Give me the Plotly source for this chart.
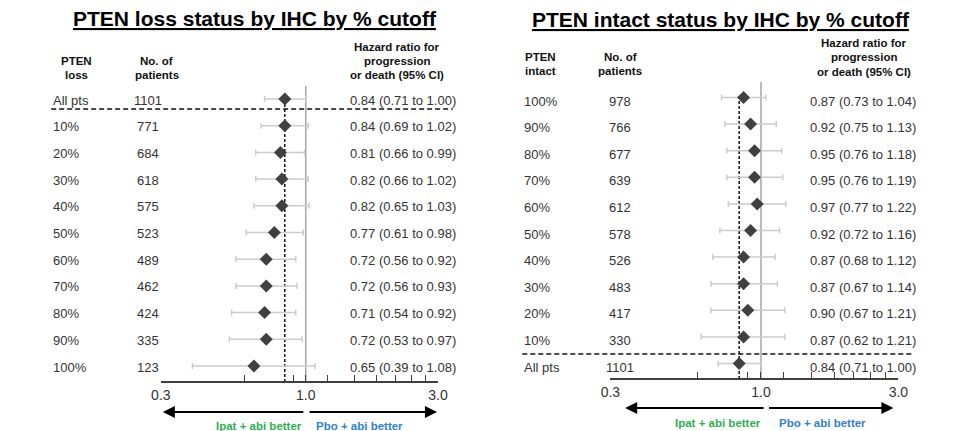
import numpy as np
import plotly.graph_objects as go

W, H = 974, 431

# ---------------- data ----------------
loss_labels = ["All pts", "10%", "20%", "30%", "40%", "50%", "60%", "70%", "80%", "90%", "100%"]
loss_n = [1101, 771, 684, 618, 575, 523, 489, 462, 424, 335, 123]
loss_hr = [0.84, 0.84, 0.81, 0.82, 0.82, 0.77, 0.72, 0.72, 0.71, 0.72, 0.65]
loss_lo = [0.71, 0.69, 0.66, 0.66, 0.65, 0.61, 0.56, 0.56, 0.54, 0.53, 0.39]
loss_hi = [1.00, 1.02, 0.99, 1.02, 1.03, 0.98, 0.92, 0.93, 0.92, 0.97, 1.08]

intact_labels = ["100%", "90%", "80%", "70%", "60%", "50%", "40%", "30%", "20%", "10%", "All pts"]
intact_n = [978, 766, 677, 639, 612, 578, 526, 483, 417, 330, 1101]
intact_hr = [0.87, 0.92, 0.95, 0.95, 0.97, 0.92, 0.87, 0.87, 0.90, 0.87, 0.84]
intact_lo = [0.73, 0.75, 0.76, 0.76, 0.77, 0.72, 0.68, 0.67, 0.67, 0.62, 0.71]
intact_hi = [1.04, 1.13, 1.18, 1.19, 1.22, 1.16, 1.12, 1.14, 1.21, 1.21, 1.00]

overall_hr = 0.84
tick_vals = [0.3, 0.6, 0.9, 1.0, 1.2, 1.5, 1.8, 2.1, 2.4, 2.7, 3.0]
tick_text = ["0.3", "", "", "1.0", "", "", "", "", "", "", "3.0"]

titles = ["PTEN loss status by IHC by % cutoff", "PTEN intact status by IHC by % cutoff"]
col1_headers = [["PTEN", "loss"], ["PTEN", "intact"]]
col2_header = ["No. of", "patients"]
hr_header = ["Hazard ratio for", "progression", "or death (95% CI)"]
favour_left = "Ipat + abi better"
favour_right = "Pbo + abi better"

FONT = "Liberation Sans, Arial, sans-serif"
TXT = "#333333"
GREEN = "#2eb04f"
BLUE = "#2f80d1"

def px(x):
    """page pixel x -> paper fraction"""
    return x / W

def ypaper(y):
    """page pixel y -> paper fraction"""
    return 1 - y / H

panels = [
    dict(labels=loss_labels, n=loss_n, hr=loss_hr, lo=loss_lo, hi=loss_hi,
         xa="x", ax0=154, ax1=437, axis_y=382, row0=100, row1=367, doff=-1,
         label_x=42, n_x=141, hr_x=345, h1_x=68, h2_x=150, h3_x=395,
         hdr_y=[61, 75], hr_hdr_y=[47, 61, 75], title_x=250, title_y=18,
         one_top=86, sep_y=109, sep_x=(42, 452), dash_top=99,
         arr_y=412, arr_l=(298, 156), arr_r=(307, 436), fav_y=426, fav_l=254, fav_r=357),
    dict(labels=intact_labels, n=intact_n, hr=intact_hr, lo=intact_lo, hi=intact_hi,
         xa="x2", ax0=613, ax1=907, axis_y=379, row0=101, row1=367, doff=-3.5,
         label_x=523, n_x=623, hr_x=815, h1_x=542, h2_x=623, h3_x=872,
         hdr_y=[57, 71], hr_hdr_y=[43, 57, 72], title_x=726, title_y=19,
         one_top=82, sep_y=354, sep_x=(523, 922), dash_top=96,
         arr_y=408, arr_l=(768, 628), arr_r=(776, 902), fav_y=423, fav_l=723, fav_r=830),
]

fig = go.Figure()
annotations = []
shapes = []

def text(x, y, s, anchor="center", size=13, color=TXT, bold=False):
    annotations.append(dict(
        x=px(x), y=y, xref="paper", yref="y", text=(f"<b>{s}</b>" if bold else s),
        showarrow=False, xanchor=anchor, yanchor="middle",
        font=dict(family=FONT, size=size, color=color)))

layout_axes = {}
for k, p in enumerate(panels):
    nrows = len(p["labels"])
    step = (p["row1"] - p["row0"]) / (nrows - 1)
    rows = [p["row0"] + i * step for i in range(nrows)]
    drows = [r + p["doff"] for r in rows]

    # reference line at 1.0
    fig.add_trace(go.Scatter(x=[1.0, 1.0], y=[p["one_top"], p["axis_y"]], mode="lines",
                             line=dict(color="#a6a6a6", width=1.5), xaxis=p["xa"], yaxis="y",
                             hoverinfo="skip", showlegend=False))
    # overall HR dashed line
    fig.add_trace(go.Scatter(x=[overall_hr, overall_hr], y=[p["dash_top"], p["axis_y"]], mode="lines",
                             line=dict(color="#111111", width=1.5, dash="3px,2px"), xaxis=p["xa"], yaxis="y",
                             hoverinfo="skip", showlegend=False))
    # diamonds with CI
    fig.add_trace(go.Scatter(
        x=p["hr"], y=drows, mode="markers", xaxis=p["xa"], yaxis="y",
        marker=dict(symbol="diamond", size=10, color="#404040"),
        error_x=dict(type="data", symmetric=False,
                     array=[h - v for h, v in zip(p["hi"], p["hr"])],
                     arrayminus=[v - l for v, l in zip(p["hr"], p["lo"])],
                     color="#cccccc", thickness=1.5, width=3),
        showlegend=False, cliponaxis=False))

    # row texts
    for r, lab, n, hr, lo, hi in zip(rows, p["labels"], p["n"], p["hr"], p["lo"], p["hi"]):
        text(p["label_x"], r, lab, anchor="left")
        text(p["n_x"], r, str(n))
        text(p["hr_x"], r, f"{hr:.2f} ({lo:.2f} to {hi:.2f})", anchor="left")

    # headers
    for line, y in zip(col1_headers[k], p["hdr_y"]):
        text(p["h1_x"], y, line, size=11.5, color="#111111", bold=True)
    for line, y in zip(col2_header, p["hdr_y"]):
        text(p["h2_x"], y, line, size=11.5, color="#111111", bold=True)
    for line, y in zip(hr_header, p["hr_hdr_y"]):
        text(p["h3_x"], y, line, size=11.5, color="#111111", bold=True)

    # title
    annotations.append(dict(x=px(p["title_x"]), y=p["title_y"], xref="paper", yref="y",
                            text=f"<b><u>{titles[k]}</u></b>", showarrow=False,
                            xanchor="center", yanchor="middle",
                            font=dict(family=FONT, size=21, color="#000000")))

    # separator dashed line
    shapes.append(dict(type="line", xref="paper", yref="y", x0=px(p["sep_x"][0]), x1=px(p["sep_x"][1]),
                       y0=p["sep_y"], y1=p["sep_y"], line=dict(color="#111111", width=1.5, dash="5px,3px")))

    # arrows (tail offset given in pixels relative to the tip)
    for (tail, tip) in (p["arr_l"], p["arr_r"]):
        annotations.append(dict(x=px(tip), y=p["arr_y"], ax=tail - tip, ay=0,
                                xref="paper", yref="y", axref="pixel", ayref="pixel", text="",
                                showarrow=True, arrowhead=2, arrowsize=1.1, arrowwidth=2.2,
                                arrowcolor="#000000"))
    text(p["fav_l"], p["fav_y"], favour_left, size=11.5, color=GREEN, bold=True)
    text(p["fav_r"], p["fav_y"], favour_right, size=11.5, color=BLUE, bold=True)

    axname = "xaxis" if k == 0 else "xaxis2"
    layout_axes[axname] = dict(
        type="log", domain=[px(p["ax0"]), px(p["ax1"])],
        range=[np.log10(0.3), np.log10(3.0)], autorange=False,
        anchor="free", position=ypaper(p["axis_y"]),
        showline=True, linecolor="#404040", linewidth=1.5,
        ticks="inside", ticklen=6, tickwidth=1.2, tickcolor="#404040",
        tickvals=tick_vals, ticktext=tick_text,
        tickfont=dict(family=FONT, size=14, color=TXT),
        showgrid=False, zeroline=False, fixedrange=True,
    )

fig.update_layout(
    width=W, height=H,
    margin=dict(l=0, r=0, t=0, b=0),
    paper_bgcolor="white", plot_bgcolor="rgba(0,0,0,0)",
    # y data values are page pixel rows
    yaxis=dict(domain=[0, 1], range=[H, 0], autorange=False, visible=False, fixedrange=True),
    annotations=annotations, shapes=shapes,
    showlegend=False,
)
fig.update_layout(**layout_axes)

# remove the default page margin so the figure fills the window exactly
page_fix = ("document.body.style.margin='0px';"
            "document.body.style.overflow='hidden';"
            "document.documentElement.style.overflow='hidden';")
fig.write_html("out.html", post_script=page_fix, config=dict(displayModeBar=False))
